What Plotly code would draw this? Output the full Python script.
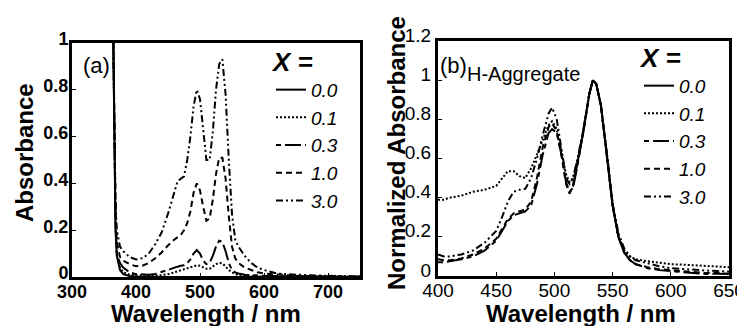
import plotly.graph_objects as go

# page has an 8px body margin, so the figure is drawn 8px right/down
OFF = 8
W, H = 745 - OFF, 326 - OFF

# ---------------- Panel (a) data ----------------
wl_a = [362, 364, 366, 368, 370, 375, 380, 390, 400, 410, 420, 430, 440, 450, 460, 465,
        470, 475, 480, 485, 490, 495, 500, 505, 510, 515, 520, 525, 530, 535, 540, 545,
        550, 555, 560, 570, 580, 590, 600, 620, 650, 700, 750]
a_00 = [1.6, 1.2, 0.6, 0.2, 0.09, 0.03, 0.012, 0.004, 0.002, 0.001, 0.001, 0.0, 0.0, 0.0, 0.0, 0.0,
        0.0, 0.0, 0.0, 0.0, 0.0, 0.0, 0.0, 0.0, 0.0, 0.0, 0.0, 0.0, 0.0, 0.0, 0.0, 0.0,
        0.0, 0.0, 0.0, 0.0, 0.0, 0.0, 0.0, 0.0, 0.0, 0.0, 0.0]
a_01 = [1.6, 1.2, 0.62, 0.22, 0.1, 0.04, 0.02, 0.01, 0.006, 0.005, 0.005, 0.006, 0.008, 0.012, 0.02, 0.024,
        0.028, 0.031, 0.035, 0.04, 0.045, 0.05, 0.048, 0.04, 0.035, 0.035, 0.045, 0.055, 0.06, 0.058, 0.045, 0.03,
        0.02, 0.012, 0.008, 0.005, 0.004, 0.003, 0.003, 0.002, 0.002, 0.001, 0.001]
a_03 = [1.6, 1.2, 0.63, 0.24, 0.1, 0.06, 0.04, 0.02, 0.012, 0.01, 0.01, 0.013, 0.02, 0.03, 0.04, 0.045,
        0.048, 0.05, 0.06, 0.075, 0.1, 0.115, 0.1, 0.07, 0.055, 0.06, 0.09, 0.13, 0.155, 0.15, 0.11, 0.06,
        0.03, 0.02, 0.015, 0.01, 0.008, 0.006, 0.005, 0.004, 0.003, 0.002, 0.001]
a_10 = [1.6, 1.2, 0.65, 0.28, 0.15, 0.085, 0.07, 0.055, 0.046, 0.048, 0.06, 0.08, 0.105, 0.135, 0.16, 0.17,
        0.18, 0.2, 0.23, 0.28, 0.36, 0.40, 0.37, 0.30, 0.24, 0.25, 0.33, 0.44, 0.51, 0.51, 0.42, 0.26,
        0.13, 0.08, 0.06, 0.04, 0.03, 0.02, 0.015, 0.01, 0.005, 0.003, 0.002]
a_30 = [1.6, 1.25, 0.7, 0.32, 0.2, 0.13, 0.11, 0.085, 0.075, 0.08, 0.1, 0.14, 0.19, 0.27, 0.37, 0.41,
        0.42, 0.43, 0.5, 0.6, 0.73, 0.80, 0.76, 0.62, 0.5, 0.5, 0.62, 0.8, 0.91, 0.93, 0.78, 0.5,
        0.27, 0.16, 0.13, 0.09, 0.06, 0.04, 0.03, 0.015, 0.01, 0.005, 0.003]

# ---------------- Panel (b) data ----------------
wl_b = [400, 405, 410, 420, 430, 440, 450, 455, 460, 465, 470, 475, 480, 485, 490, 495, 498,
        502, 506, 510, 513, 516, 520, 525, 530, 533, 536, 540, 545, 550, 555, 560, 565, 570,
        580, 590, 600, 610, 620, 630, 640, 650]
b_01 = [0.39, 0.39, 0.40, 0.41, 0.43, 0.44, 0.46, 0.50, 0.535, 0.535, 0.51, 0.50, 0.55, 0.62, 0.70, 0.77, 0.79,
        0.75, 0.64, 0.52, 0.48, 0.50, 0.60, 0.75, 0.93, 1.0, 0.98, 0.87, 0.63, 0.37, 0.20, 0.13, 0.10, 0.085,
        0.075, 0.068, 0.06, 0.058, 0.055, 0.05, 0.047, 0.045]
b_03 = [0.07, 0.07, 0.075, 0.085, 0.10, 0.13, 0.18, 0.23, 0.28, 0.31, 0.32, 0.33, 0.36, 0.47, 0.62, 0.73, 0.75,
        0.73, 0.62, 0.48, 0.43, 0.45, 0.57, 0.74, 0.93, 1.0, 0.98, 0.87, 0.62, 0.36, 0.20, 0.12, 0.08, 0.06,
        0.04, 0.03, 0.025, 0.02, 0.015, 0.01, 0.012, 0.01]
b_10 = [0.085, 0.08, 0.08, 0.09, 0.11, 0.14, 0.19, 0.24, 0.29, 0.32, 0.33, 0.34, 0.38, 0.50, 0.66, 0.76, 0.78,
        0.74, 0.62, 0.47, 0.42, 0.46, 0.58, 0.74, 0.93, 1.0, 0.98, 0.87, 0.62, 0.36, 0.20, 0.12, 0.08, 0.06,
        0.045, 0.035, 0.03, 0.025, 0.02, 0.015, 0.015, 0.012]
b_30 = [0.11, 0.10, 0.10, 0.11, 0.13, 0.17, 0.23, 0.30, 0.38, 0.43, 0.44, 0.445, 0.50, 0.60, 0.72, 0.83, 0.86,
        0.80, 0.65, 0.50, 0.47, 0.50, 0.60, 0.75, 0.93, 1.0, 0.98, 0.87, 0.63, 0.37, 0.22, 0.14, 0.10, 0.08,
        0.065, 0.05, 0.04, 0.035, 0.03, 0.028, 0.025, 0.022]
wl_b0 = [516, 520, 525, 530, 533, 536, 540, 545, 550, 555, 560, 565]
b_00 = [0.46, 0.58, 0.74, 0.93, 1.0, 0.98, 0.87, 0.62, 0.36, 0.20, 0.12, 0.08]

labels = ["0.0", "0.1", "0.3", "1.0", "3.0"]
dashes = ["solid", "2px,2px", "5px,4px,16px,4px", "6px,4px", "7px,3px,2px,3px,2px,3px"]

FONT = "Liberation Sans"

fig = go.Figure()

series_a = [a_00, a_01, a_03, a_10, a_30]
for lab, ys, d in zip(labels, series_a, dashes):
    fig.add_trace(go.Scatter(x=wl_a, y=ys, mode="lines", name=lab,
                             line=dict(color="black", width=2, dash=d),
                             xaxis="x", yaxis="y", legend="legend"))

series_b = [(wl_b0, b_00), (wl_b, b_01), (wl_b, b_03), (wl_b, b_10), (wl_b, b_30)]
for lab, (xs, ys), d in zip(labels, series_b, dashes):
    fig.add_trace(go.Scatter(x=xs, y=ys, mode="lines", name=lab,
                             line=dict(color="black", width=2, dash=d),
                             xaxis="x2", yaxis="y2", legend="legend2"))

def px(x):
    return (x - OFF) / W

def py(y):
    return 1 - (y - OFF) / H

axis_common = dict(showline=True, mirror=True, linecolor="black", linewidth=3,
                   ticks="inside", ticklen=4, tickwidth=1, tickcolor="black",
                   showgrid=False, zeroline=False, automargin=False)

tick_a = dict(family=FONT, size=18, color="black", weight="bold")
tick_b = dict(family=FONT, size=19, color="black")

leg_font = dict(family=FONT, size=19, style="italic", color="black")
leg_title = dict(text="<b><i>X</i> =</b>", font=dict(family=FONT, size=26, color="black"))

fig.update_layout(
    width=W, height=H,
    margin=dict(l=0, r=0, t=0, b=0),
    paper_bgcolor="white", plot_bgcolor="white",
    showlegend=True,
    xaxis=dict(domain=[px(72), px(360)], range=[300, 750], tickvals=[300, 400, 500, 600, 700],
               anchor="y", tickfont=tick_a, ticklabelstandoff=-4, **axis_common),
    yaxis=dict(domain=[py(277), py(43)], range=[0, 1], tickvals=[0, 0.2, 0.4, 0.6, 0.8, 1],
               anchor="x", tickfont=tick_a, ticklabelstandoff=-3, ticklabelshift=-4, **axis_common),
    xaxis2=dict(domain=[px(438), px(729)], range=[400, 650], tickvals=[400, 450, 500, 550, 600, 650],
                anchor="y2", tickfont=tick_b, ticklabelstandoff=-5, **axis_common),
    yaxis2=dict(domain=[py(276), py(41)], range=[0, 1.2], tickvals=[0, 0.2, 0.4, 0.6, 0.8, 1, 1.2],
                anchor="x2", tickfont=tick_b, ticklabelshift=-6, **axis_common),
    legend=dict(x=px(271), y=py(37), xanchor="left", yanchor="top", bgcolor="rgba(0,0,0,0)",
                font=leg_font, title=leg_title, tracegroupgap=0),
    legend2=dict(x=px(639), y=py(33), xanchor="left", yanchor="top", bgcolor="rgba(0,0,0,0)",
                 font=leg_font, title=leg_title, tracegroupgap=0),
)

annos = [
    dict(text="(a)", x=px(96), y=py(66), font=dict(family=FONT, size=22, color="black")),
    dict(text="(b)", x=px(453), y=py(66), font=dict(family=FONT, size=22, color="black")),
    dict(text="H-Aggregate", x=px(523), y=py(74), font=dict(family=FONT, size=20, color="black")),
    dict(text="<b>Absorbance</b>", x=px(24), y=py(153), textangle=-90,
         font=dict(family=FONT, size=24, color="black")),
    dict(text="<b>Wavelength / nm</b>", x=px(206), y=py(313),
         font=dict(family=FONT, size=24, color="black")),
    dict(text="<b>Normalized Absorbance</b>", x=px(396), y=py(153), textangle=-90,
         font=dict(family=FONT, size=24, color="black")),
    dict(text="<b>Wavelength / nm</b>", x=px(581), y=py(313),
         font=dict(family=FONT, size=24, color="black")),
]
for a in annos:
    fig.add_annotation(xref="paper", yref="paper", showarrow=False,
                       xanchor="center", yanchor="middle", **a)

fig.write_html("out.html")
